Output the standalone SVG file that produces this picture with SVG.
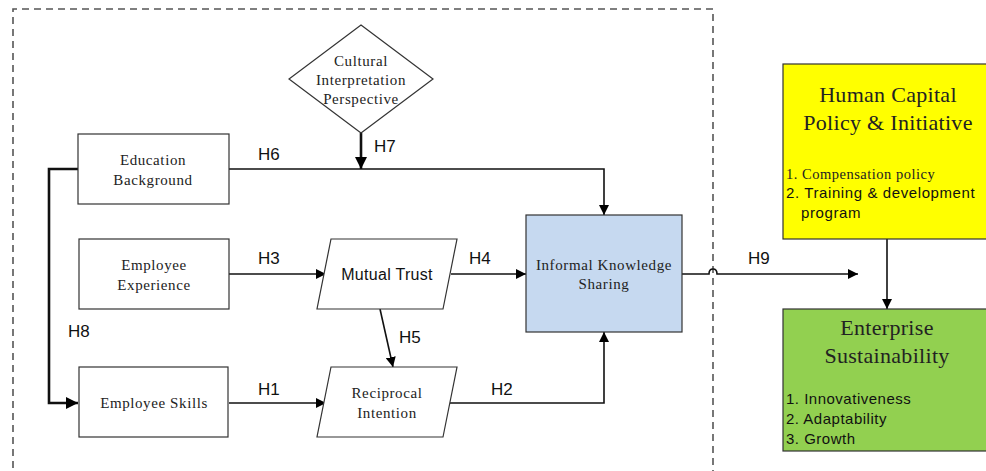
<svg xmlns="http://www.w3.org/2000/svg" width="986" height="471" viewBox="0 0 986 471">
<defs>
<marker id="ah" viewBox="0 0 10 10" refX="10" refY="5" markerWidth="10" markerHeight="10" markerUnits="userSpaceOnUse" orient="auto"><path d="M0,0 L10,5 L0,10 z" fill="#000"/></marker>
<marker id="ahb" viewBox="0 0 10 10" refX="10" refY="5" markerWidth="12" markerHeight="12" markerUnits="userSpaceOnUse" orient="auto"><path d="M0,0 L10,5 L0,10 z" fill="#000"/></marker>
<style>
.box{fill:#fff;stroke:#333;stroke-width:1.2}
.serif{font-family:"Liberation Serif","Times New Roman",serif;fill:#222}
.bt{font-size:15px;letter-spacing:0.6px}
.sans{font-family:"Liberation Sans",Arial,sans-serif;fill:#111}
.lbl{font-family:"Liberation Sans",Arial,sans-serif;font-size:17px;fill:#111}
.ln{fill:none;stroke:#111;stroke-width:1.6}
.thick{fill:none;stroke:#111;stroke-width:2.6}
</style>
</defs>
<rect width="986" height="471" fill="#fff"/>
<path d="M13,480 V9 H713 V480" fill="none" stroke="#555" stroke-width="1.6" stroke-dasharray="7,5"/>

<g id="connectors">
<path class="thick" d="M361,133 V169" marker-end="url(#ahb)"/>
<path class="ln" d="M229,169 H604 V215" marker-end="url(#ah)"/>
<path class="thick" d="M78,169 H49 V403 H78" marker-end="url(#ahb)"/>
<path class="ln" d="M229,274 H326" marker-end="url(#ah)"/>
<path class="ln" d="M229,403 H326" marker-end="url(#ah)"/>
<path class="ln" d="M380,309 L393,367" marker-end="url(#ah)"/>
<path class="ln" d="M451,274 H526" marker-end="url(#ah)"/>
<path class="ln" d="M450,403 H604 V332" marker-end="url(#ah)"/>
<path class="ln" d="M682,274 H709 Q709,269 713,269 Q717,269 717,274 H858" marker-end="url(#ah)"/>
<path class="ln" d="M887,239 V309" marker-end="url(#ah)"/>
<text class="lbl" x="258" y="160">H6</text>
<text class="lbl" x="374" y="152">H7</text>
<text class="lbl" x="258" y="264">H3</text>
<text class="lbl" x="469" y="264">H4</text>
<text class="lbl" x="399" y="343">H5</text>
<text class="lbl" x="68" y="337">H8</text>
<text class="lbl" x="258" y="395">H1</text>
<text class="lbl" x="491" y="395">H2</text>
<text class="lbl" x="748" y="264">H9</text>
</g>

<g id="cultural">
<polygon class="box" points="361,25 433,79 361,133 289,79"/>
<text class="serif bt" text-anchor="middle"><tspan x="361" y="66">Cultural</tspan><tspan x="361" y="85">Interpretation</tspan><tspan x="361" y="104">Perspective</tspan></text>
</g>

<g id="education">
<rect class="box" x="78" y="134" width="151" height="70"/>
<text class="serif bt" text-anchor="middle"><tspan x="153" y="165">Education</tspan><tspan x="153" y="185">Background</tspan></text>
</g>

<g id="experience">
<rect class="box" x="79" y="239" width="150" height="70"/>
<text class="serif bt" text-anchor="middle"><tspan x="154" y="270">Employee</tspan><tspan x="154" y="290">Experience</tspan></text>
</g>

<g id="skills">
<rect class="box" x="79" y="367" width="149" height="70"/>
<text class="serif bt" text-anchor="middle" x="154" y="408">Employee Skills</text>
</g>

<g id="trust">
<polygon class="box" points="331,239 457,239 443,309 317,309"/>
<text class="sans" font-size="16" letter-spacing="0.3" text-anchor="middle" x="387" y="280">Mutual Trust</text>
</g>

<g id="reciprocal">
<polygon class="box" points="331,367 457,367 443,437 317,437"/>
<text class="serif bt" text-anchor="middle"><tspan x="387" y="398">Reciprocal</tspan><tspan x="387" y="418">Intention</tspan></text>
</g>

<g id="iks">
<rect x="526" y="215" width="156" height="117" fill="#c6d9f0" stroke="#333" stroke-width="1.2"/>
<text class="serif bt" text-anchor="middle" fill="#333"><tspan x="604" y="270">Informal Knowledge</tspan><tspan x="604" y="289">Sharing</tspan></text>
</g>

<g id="hcp">
<rect x="783" y="64" width="210" height="175" fill="#ffff00" stroke="#333" stroke-width="1.2"/>
<text class="serif" font-size="22" letter-spacing="0.3" text-anchor="middle" fill="#111"><tspan x="888" y="102">Human Capital</tspan><tspan x="888" y="130">Policy &amp; Initiative</tspan></text>
<text class="serif" font-size="14.5" letter-spacing="0.5" x="786" y="179">1.  Compensation policy</text>
<text class="sans" font-size="15" letter-spacing="0.6"><tspan x="786" y="198">2. Training &amp; development</tspan><tspan x="801" y="218">program</tspan></text>
</g>

<g id="es">
<rect x="783" y="309" width="210" height="142" fill="#92d050" stroke="#333" stroke-width="1.2"/>
<text class="serif" font-size="22" letter-spacing="0.3" text-anchor="middle" fill="#111"><tspan x="887" y="335">Enterprise</tspan><tspan x="887" y="363">Sustainability</tspan></text>
<text class="sans" font-size="15" letter-spacing="0.5"><tspan x="786" y="404">1. Innovativeness</tspan><tspan x="786" y="424">2. Adaptability</tspan><tspan x="786" y="444">3. Growth</tspan></text>
</g>
</svg>
